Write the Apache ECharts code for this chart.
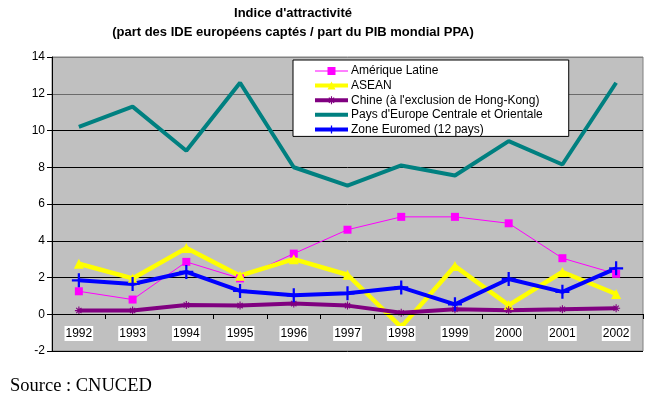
<!DOCTYPE html>
<html>
<head>
<meta charset="utf-8">
<script src="https://cdn.jsdelivr.net/npm/echarts@6/dist/echarts.min.js"></script>
<style>
  html, body { margin: 0; padding: 0; background: #fff; }
  #chart { width: 645px; height: 406px; }
</style>
</head>
<body>
<div id="chart"></div>
<script>
var chartDom = document.getElementById('chart');
var myChart = echarts.init(chartDom);

// données
var years = ['1992', '1993', '1994', '1995', '1996', '1997', '1998', '1999', '2000', '2001', '2002'];
var ameriqueLatine = [1.25, 0.8, 2.85, 1.95, 3.3, 4.6, 5.3, 5.3, 4.95, 3.05, 2.2];
var asean = [2.75, 1.95, 3.6, 2.1, 3.0, 2.15, -0.7, 2.62, 0.5, 2.3, 1.1];
var chine = [0.2, 0.2, 0.5, 0.47, 0.58, 0.47, 0.08, 0.27, 0.22, 0.27, 0.33];
var paysEurope = [10.2, 11.3, 8.9, 12.6, 8.0, 7.0, 8.1, 7.55, 9.42, 8.15, 12.6];
var euromed = [1.85, 1.65, 2.3, 1.27, 1.03, 1.14, 1.46, 0.54, 1.92, 1.22, 2.5];

var plusPath = 'path://M4.2,0h1.6v10h-1.6z M0,4.2h10v1.6h-10z';
var starPath = 'path://M4.3,0h1.4v10h-1.4z M0,4.3h10v1.4h-10z M1.2,2.2l1-1l6.6,6.6l-1,1z M7.8,1.2l1,1l-6.6,6.6l-1,-1z';
// simple trait épais pour la légende (pas de marqueur)
var barIcon = 'path://M0,0h33v0.01h-33z M0,3h33v4h-33z M0,9.99h33v0.01h-33z';

var font = 'Arial, "Liberation Sans", sans-serif';

var option = {
  animation: false,
  textStyle: { fontFamily: font },
  graphic: [
    {
      type: 'text', x: 293, y: 13,
      style: { text: "Indice d'attractivité", font: 'bold 13px ' + font, fill: '#000', align: 'center', verticalAlign: 'middle' }
    },
    {
      type: 'text', x: 293, y: 32,
      style: { text: '(part des IDE européens captés / part du PIB mondial PPA)', font: 'bold 13px ' + font, fill: '#000', align: 'center', verticalAlign: 'middle' }
    },
    {
      type: 'text', x: 10, y: 386,
      style: { text: 'Source : CNUCED', font: '18.5px "Liberation Serif", "Times New Roman", serif', fill: '#000', verticalAlign: 'middle' }
    }
  ],
  legend: {
    orient: 'vertical',
    left: 293,
    top: 60,
    backgroundColor: '#fff',
    borderColor: '#000',
    borderWidth: 1,
    padding: [5, 26, 1, 20],
    itemGap: 2.6,
    itemWidth: 33,
    itemHeight: 10,
    textStyle: { fontSize: 12, color: '#000', padding: [0, 0, 0, -2] },
    data: [
      { name: 'Amérique Latine', lineStyle: { width: 1 } },
      { name: 'ASEAN', lineStyle: { width: 4 } },
      { name: "Chine (à l'exclusion de Hong-Kong)", lineStyle: { width: 4 } },
      { name: "Pays d'Europe Centrale et Orientale", icon: barIcon, itemStyle: { color: '#008080' } },
      { name: 'Zone Euromed (12 pays)', lineStyle: { width: 4 } }
    ]
  },
  grid: {
    left: 52,
    right: 2,
    top: 57,
    bottom: 55,
    show: true,
    backgroundColor: '#c0c0c0',
    borderColor: '#808080',
    borderWidth: 1
  },
  xAxis: {
    type: 'category',
    data: years,
    boundaryGap: true,
    offset: -37,
    z: 5,
    axisLine: { onZero: false, lineStyle: { color: '#000', width: 1 } },
    axisTick: { show: true, length: 5, lineStyle: { color: '#000' } },
    axisLabel: {
      color: '#000', fontSize: 12, margin: 12,
      backgroundColor: '#fff', padding: [2, 1, 1, 1]
    },
    splitLine: { show: false }
  },
  yAxis: {
    type: 'value',
    min: -2,
    max: 14,
    interval: 2,
    axisLine: { show: true, lineStyle: { color: '#000' } },
    axisTick: { show: true, length: 5, lineStyle: { color: '#000' } },
    axisLabel: { color: '#000', fontSize: 12, margin: 7 },
    splitLine: {
      lineStyle: {
        color: ['#000', '#000', '#000', '#000', '#000', '#000', '#000', '#6a6a6a', '#808080'],
        width: 1
      }
    }
  },
  series: [
    {
      name: 'Amérique Latine',
      type: 'line',
      data: ameriqueLatine,
      symbol: 'rect',
      symbolSize: 8,
      lineStyle: { color: '#ff00ff', width: 1 },
      itemStyle: { color: '#ff00ff' }
    },
    {
      name: 'ASEAN',
      type: 'line',
      data: asean,
      symbol: 'triangle',
      symbolSize: 10,
      lineStyle: { color: '#ffff00', width: 4.5 },
      itemStyle: { color: '#ffff00' }
    },
    {
      name: "Chine (à l'exclusion de Hong-Kong)",
      type: 'line',
      data: chine,
      symbol: starPath,
      symbolSize: 8,
      lineStyle: { color: '#800080', width: 4 },
      itemStyle: { color: '#800080' }
    },
    {
      name: "Pays d'Europe Centrale et Orientale",
      type: 'line',
      data: paysEurope,
      symbol: 'none',
      lineStyle: { color: '#008080', width: 4 },
      itemStyle: { color: '#008080' }
    },
    {
      name: 'Zone Euromed (12 pays)',
      type: 'line',
      data: euromed,
      symbol: plusPath,
      symbolSize: 14,
      lineStyle: { color: '#0000ff', width: 4 },
      itemStyle: { color: '#0000ff' }
    }
  ]
};

myChart.setOption(option);

window.onresize = () => {
  myChart.resize();
}
</script>
</body>
</html>
